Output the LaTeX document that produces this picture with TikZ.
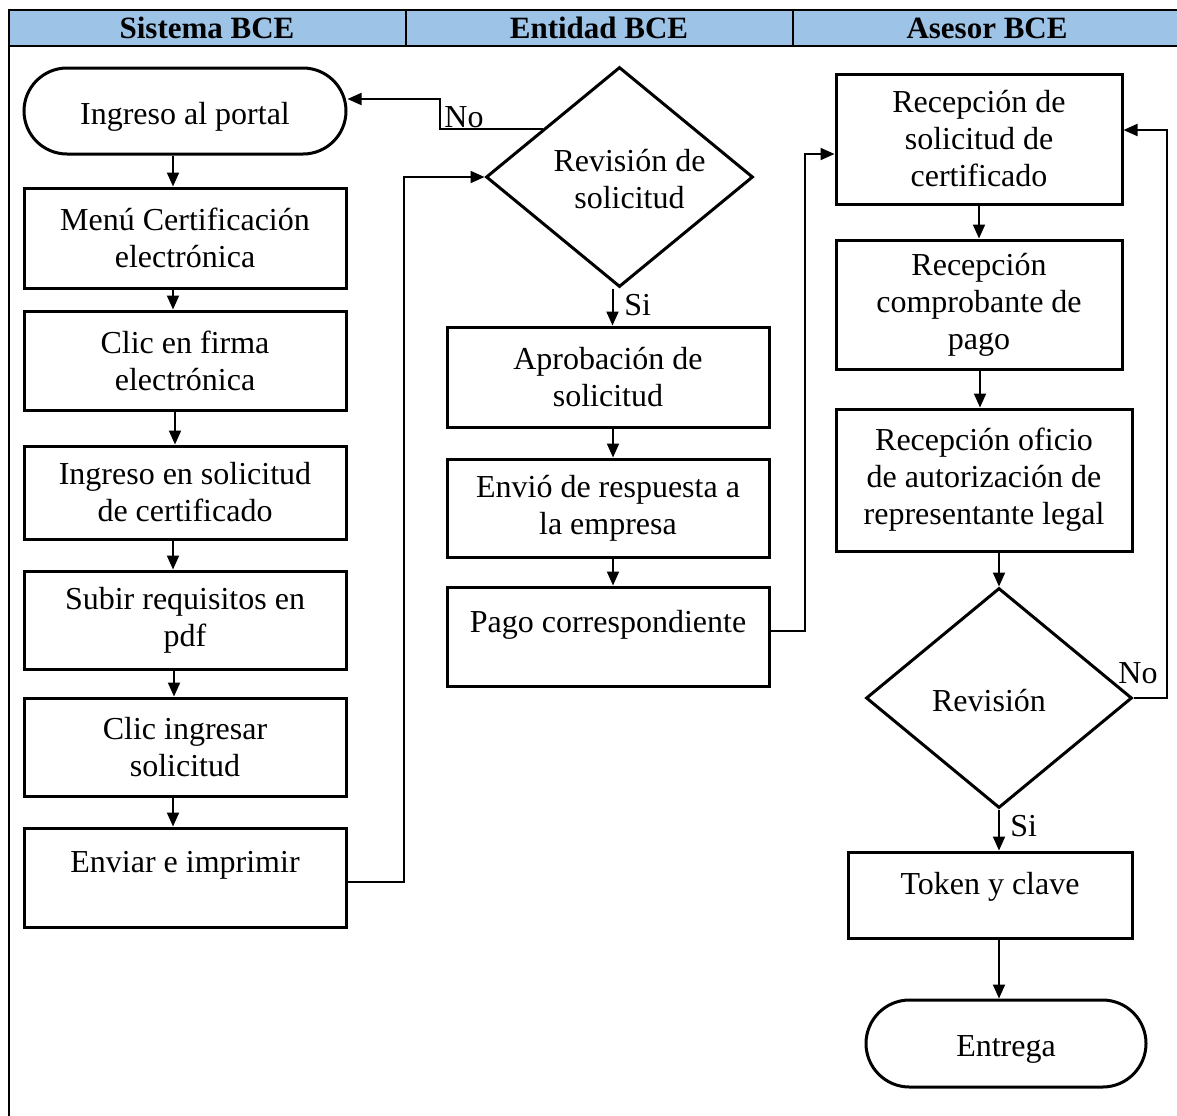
\documentclass[tikz,border=0pt]{standalone}
\usepackage{fontspec}
\setmainfont{Liberation Serif}
\usetikzlibrary{shapes.geometric,arrows.meta,calc}
\definecolor{hdrblue}{RGB}{157,195,230}
\begin{document}
\begin{tikzpicture}[x=0.5pt,y=-0.5pt,
  txt/.style={font=\fontsize{16}{18.5}\selectfont},
  box/.style={draw, line width=1.5pt, inner sep=0pt, align=center, txt},
  term/.style={box, rounded corners=21.5pt},
  dec/.style={diamond, draw, line width=1.5pt, inner sep=0pt},
  arr/.style={-{Triangle[length=7pt,width=6pt]}, line width=1pt},
  lbl/.style={txt, inner sep=0pt},
  hdr/.style={font=\fontsize{15.5}{18}\selectfont\bfseries, inner sep=0pt}]
\useasboundingbox (0,0) rectangle (1177,1115);

% table frame and header row
\fill[hdrblue] (9,10) rectangle (1180,46);
\draw[line width=1.2pt] (1180,10) -- (9,10) -- (9,1120);
\draw[line width=1.2pt] (9,46) -- (1180,46);
\draw[line width=1pt] (406,10) -- (406,46) (793,10) -- (793,46);
\node[hdr] (h1) at (207,28) {Sistema BCE};
\node[hdr] (h2) at (599,28) {Entidad BCE};
\node[hdr] (h3) at (987,28) {Asesor BCE};

% Sistema BCE
\node[term, minimum width=161pt, minimum height=43pt, text height=17pt, text depth=3.5pt] (portal) at (185,111) {Ingreso al portal};
\node[box, minimum width=161pt, minimum height=50pt] (menu) at (185,238) {Menú Certificación\\electrónica};
\node[box, minimum width=161pt, minimum height=49.5pt] (firma) at (185,360.5) {Clic en firma\\electrónica};
\node[box, minimum width=161pt, minimum height=46.5pt] (ingsol) at (185,492.5) {Ingreso en solicitud\\de certificado};
\node[box, minimum width=161pt, minimum height=49pt] (subir) at (185,620) {Subir requisitos en\\pdf};
\node[box, minimum width=161pt, minimum height=49pt] (clicing) at (185,747) {Clic ingresar\\solicitud};
\node[box, minimum width=161pt, minimum height=49.5pt, text height=14pt, text depth=19.5pt] (enviar) at (185,877.5) {Enviar e imprimir};

% Entidad BCE
\node[dec, minimum width=133.5pt, minimum height=110pt,
      label={[lbl, align=center, xshift=5pt, yshift=-1pt, name=rev1t]center:Revisión de\\solicitud}] (rev1) at (619.5,177) {};
\node[box, minimum width=161pt, minimum height=50pt] (aprob) at (608,377) {Aprobación de\\solicitud};
\node[box, minimum width=161pt, minimum height=49pt] (envio) at (608,508) {Envió de respuesta a\\la empresa};
\node[box, minimum width=161pt, minimum height=49.5pt, text height=15pt, text depth=19pt] (pago) at (608,636.5) {Pago correspondiente};

% Asesor BCE
\node[box, minimum width=143pt, minimum height=65pt] (recsol) at (979,139) {Recepción de\\solicitud de\\certificado};
\node[box, minimum width=143pt, minimum height=64.5pt] (comp) at (979,304.5) {Recepción\\comprobante de\\pago};
\node[box, minimum width=148pt, minimum height=71pt] (oficio) at (984,480) {Recepción oficio\\de autorización de\\representante legal};
\node[dec, minimum width=133pt, minimum height=110pt,
      label={[lbl, xshift=-5pt, yshift=-1.5pt, name=rev2t]center:Revisión}] (rev2) at (999,698) {};
\node[box, minimum width=142pt, minimum height=43pt, text height=15pt, text depth=15.5pt] (token) at (990,895) {Token y clave};
\node[term, minimum width=140pt, minimum height=43.5pt, rounded corners=21.75pt, text height=16pt, text depth=3.5pt] (entrega) at (1006,1043.5) {Entrega};

% flow within Sistema BCE
\draw[arr] ([xshift=-6pt]portal.south) -- ([xshift=-6pt]menu.north);
\draw[arr] ([xshift=-6pt]menu.south) -- ([xshift=-6pt]firma.north);
\draw[arr] ([xshift=-5pt]firma.south) -- ([xshift=-5pt]ingsol.north);
\draw[arr] ([xshift=-6pt]ingsol.south) -- ([xshift=-6pt]subir.north);
\draw[arr] ([xshift=-5.5pt]subir.south) -- ([xshift=-5.5pt]clicing.north);
\draw[arr] ([xshift=-6pt]clicing.south) -- ([xshift=-6pt]enviar.north);
\draw[arr] ([yshift=-2pt]enviar.east) -- ++(56,0) |- (rev1.west);

% review of the request
\coordinate (noA) at ($(rev1.west)!0.43!(rev1.north)$);
\draw[arr] (noA) -- (440,0 |- noA) |- ([yshift=6pt]portal.east);
\node[lbl, anchor=west] (no1) at (444,117) {No};
\draw[arr] ([xshift=-3.5pt]rev1.south) -- ([xshift=-3.5pt]rev1.south |- aprob.north);
\node[lbl, anchor=west] (si1) at (624,305) {Si};
\draw[arr] ([xshift=2.5pt]aprob.south) -- ([xshift=2.5pt]envio.north);
\draw[arr] ([xshift=2.5pt]envio.south) -- ([xshift=2.5pt]pago.north);
\draw[arr] ([yshift=3pt]pago.east) -- ++(34,0) |- ([yshift=-7.5pt]recsol.west);

% flow within Asesor BCE
\draw[arr] (recsol.south) -- (comp.north);
\draw[arr] ([xshift=0.5pt]comp.south) -- ([xshift=0.5pt]comp.south |- oficio.north);
\draw[arr] (oficio.south -| rev2.north) -- (rev2.north);
\draw[arr] (rev2.south) -- (rev2.south |- token.north);
\draw[arr] (token.south -| rev2.south) -- (entrega.north -| rev2.south);
\draw[arr] (rev2.east) -- ++(33,0) |- ([yshift=4.5pt]recsol.east);
\node[lbl, anchor=west] (no2) at (1118,673) {No};
\node[lbl, anchor=west] (si2) at (1010,826) {Si};
\end{tikzpicture}
\end{document}
